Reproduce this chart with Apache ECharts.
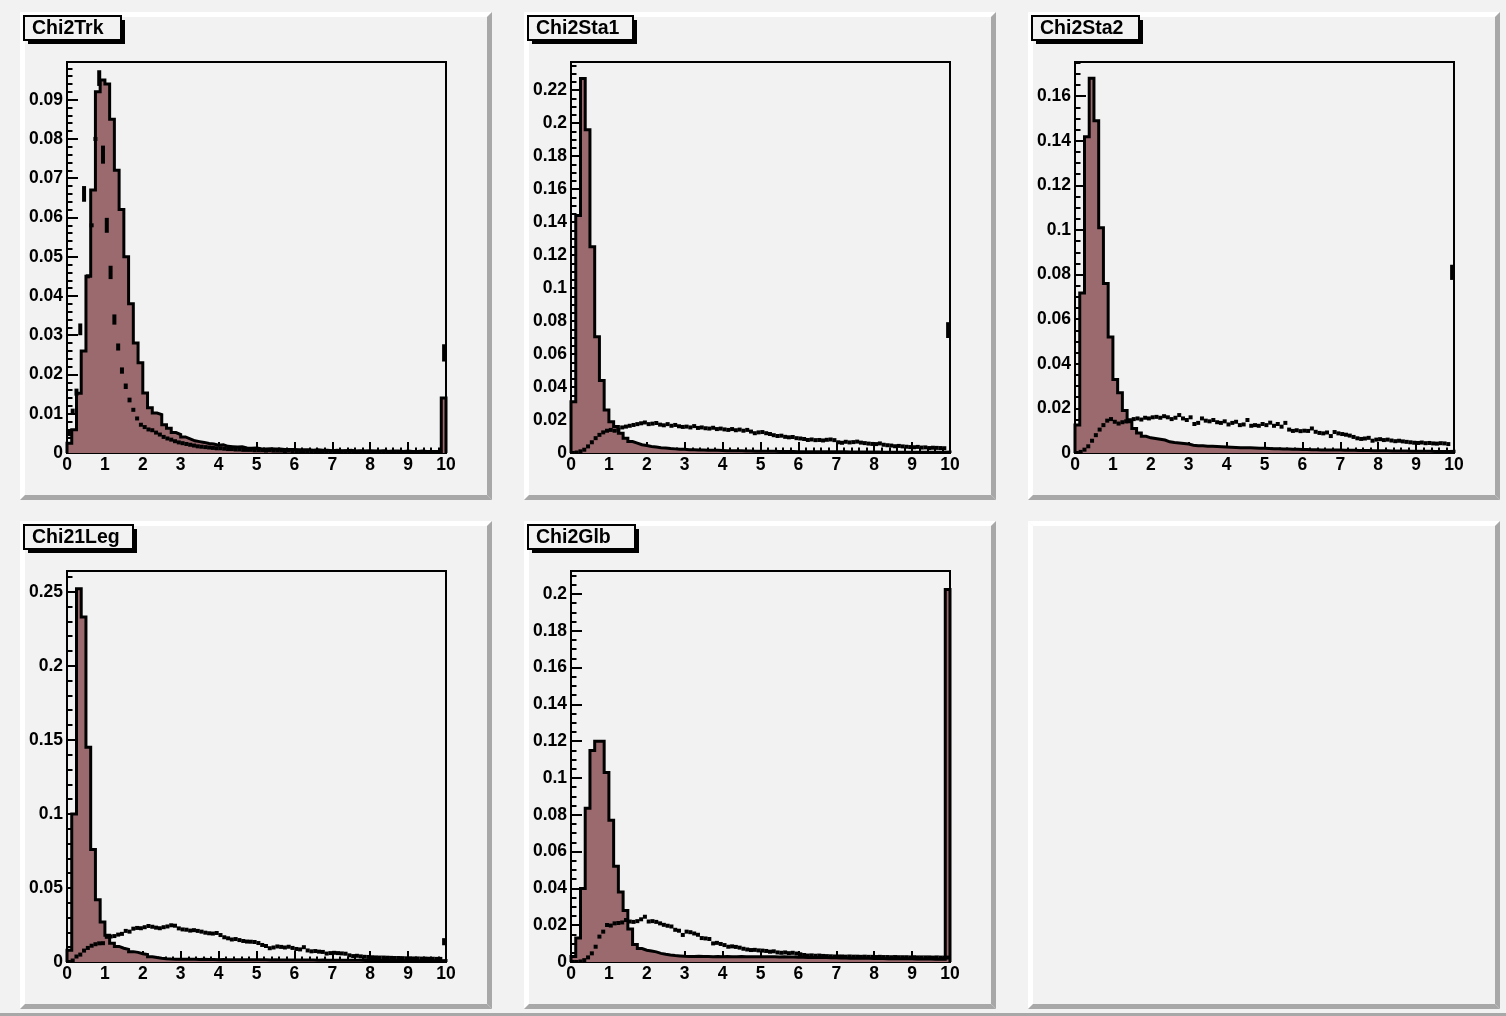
<!DOCTYPE html>
<html>
<head>
<meta charset="utf-8">
<script src="https://cdn.jsdelivr.net/npm/echarts@6/dist/echarts.min.js"></script>
<style>
  html, body { margin: 0; padding: 0; background: #f2f2f2; }
  #chart { width: 1506px; height: 1016px; }
</style>
</head>
<body>
<div id="chart"></div>
<script>
// pad titles and y ranges
var titles = ['Chi2Trk', 'Chi2Sta1', 'Chi2Sta2', 'Chi21Leg', 'Chi2Glb'];
var yMax = [0.0996, 0.237, 0.1753, 0.264, 0.2125];
var yStep = [0.01, 0.02, 0.02, 0.05, 0.02];
var yMinor = [5, 4, 4, 5, 4];
var xTicks = [0, 1, 2, 3, 4, 5, 6, 7, 8, 9, 10];

// filled histograms, 80 bins on [0,10]
var trkFill = [
  0.0025, 0.0059, 0.0152, 0.026, 0.045, 0.067, 0.092, 0.095, 0.094, 0.085,
  0.072, 0.062, 0.050, 0.038, 0.028, 0.023, 0.0153, 0.0115, 0.0102, 0.0098,
  0.0072, 0.0063, 0.0052, 0.0047, 0.0041, 0.0036, 0.0031, 0.0029, 0.0027, 0.0024,
  0.0023, 0.0020, 0.0021, 0.0017, 0.0016, 0.0015, 0.0016, 0.0013, 0.0012, 0.0013,
  0.0011, 0.0010, 0.0011, 0.0010, 0.0010, 0.0009, 0.0009, 0.0009, 0.0008, 0.0008,
  0.0008, 0.0007, 0.0008, 0.0007, 0.0007, 0.0006, 0.0007, 0.0006, 0.0006, 0.0007,
  0.0005, 0.0006, 0.0005, 0.0006, 0.0005, 0.0005, 0.0006, 0.0004, 0.0005, 0.0005,
  0.0004, 0.0005, 0.0004, 0.0004, 0.0005, 0.0004, 0.0004, 0.0004, 0.0003, 0.0140
];
var sta1Fill = [
  0.031, 0.144, 0.227, 0.196, 0.125, 0.0705, 0.044, 0.026, 0.019, 0.016,
  0.012, 0.0089, 0.0069, 0.006, 0.005, 0.0045, 0.004, 0.0036, 0.0032, 0.003,
  0.0027, 0.0025, 0.0023, 0.0022, 0.002, 0.0019, 0.0018, 0.0018, 0.0017, 0.0016,
  0.0016, 0.0015, 0.0014, 0.0014, 0.0013, 0.0013, 0.0012, 0.0012, 0.0011, 0.0011,
  0.0010, 0.0010, 0.0010, 0.0009, 0.0009, 0.0009, 0.0009, 0.0008, 0.0008, 0.0008,
  0.0008, 0.0008, 0.0007, 0.0007, 0.0007, 0.0007, 0.0007, 0.0007, 0.0006, 0.0006,
  0.0006, 0.0006, 0.0006, 0.0006, 0.0006, 0.0005, 0.0005, 0.0005, 0.0005, 0.0005,
  0.0005, 0.0005, 0.0005, 0.0005, 0.0004, 0.0004, 0.0004, 0.0004, 0.0004, 0.0006
];
var sta2Fill = [
  0.0126, 0.0717, 0.1418, 0.168, 0.149, 0.101, 0.076, 0.052, 0.033, 0.027,
  0.019, 0.014, 0.011, 0.009, 0.0075, 0.0068, 0.0065, 0.0062, 0.0058, 0.005,
  0.0047, 0.0045, 0.0043, 0.004, 0.0035, 0.0033, 0.0032, 0.003, 0.003, 0.0029,
  0.0028, 0.0027, 0.0026, 0.0025, 0.0024, 0.0023, 0.0023, 0.0022, 0.0021, 0.0021,
  0.0020, 0.0019, 0.0019, 0.0018, 0.0018, 0.0017, 0.0017, 0.0016, 0.0016, 0.0015,
  0.0015, 0.0014, 0.0014, 0.0014, 0.0013, 0.0013, 0.0012, 0.0012, 0.0012, 0.0011,
  0.0011, 0.0011, 0.0010, 0.0010, 0.0010, 0.0010, 0.0009, 0.0009, 0.0009, 0.0009,
  0.0008, 0.0008, 0.0008, 0.0008, 0.0008, 0.0007, 0.0007, 0.0007, 0.0007, 0.0008
];
var legFill = [
  0.008, 0.100, 0.252, 0.233, 0.145, 0.076, 0.042, 0.027, 0.018, 0.0127,
  0.0105, 0.0093, 0.0085, 0.007, 0.0065, 0.0056, 0.005, 0.0036, 0.003, 0.0025,
  0.0022, 0.0020, 0.0019, 0.0019, 0.0018, 0.0018, 0.0018, 0.0017, 0.0018, 0.0017,
  0.0017, 0.0016, 0.0017, 0.0016, 0.0016, 0.0016, 0.0015, 0.0016, 0.0015, 0.0015,
  0.0015, 0.0015, 0.0014, 0.0015, 0.0014, 0.0014, 0.0014, 0.0013, 0.0014, 0.0013,
  0.0013, 0.0013, 0.0012, 0.0013, 0.0012, 0.0012, 0.0012, 0.0011, 0.0012, 0.0011,
  0.0011, 0.0011, 0.0010, 0.0011, 0.0010, 0.0010, 0.0010, 0.0010, 0.0009, 0.0010,
  0.0009, 0.0009, 0.0009, 0.0009, 0.0008, 0.0009, 0.0008, 0.0008, 0.0008, 0.0010
];
var glbFill = [
  0.003, 0.013, 0.040, 0.0835, 0.115, 0.120, 0.120, 0.103, 0.077, 0.052,
  0.038, 0.028, 0.018, 0.0095, 0.0073, 0.0064, 0.006, 0.0055, 0.0047, 0.0042,
  0.0038, 0.0035, 0.0033, 0.0031, 0.0030, 0.0030, 0.0031, 0.0030, 0.0030, 0.0029,
  0.0030, 0.0029, 0.0030, 0.0029, 0.0029, 0.0030, 0.0029, 0.0028, 0.0029, 0.0028,
  0.0028, 0.0029, 0.0028, 0.0027, 0.0028, 0.0027, 0.0027, 0.0026, 0.0026, 0.0025,
  0.0025, 0.0025, 0.0024, 0.0024, 0.0023, 0.0023, 0.0022, 0.0022, 0.0021, 0.0021,
  0.0020, 0.0020, 0.0020, 0.0019, 0.0019, 0.0019, 0.0018, 0.0018, 0.0018, 0.0017,
  0.0017, 0.0017, 0.0016, 0.0016, 0.0016, 0.0016, 0.0015, 0.0015, 0.0015, 0.2025
];

// marker histograms, 100 bins on [0,10]
var trkPts = [
  0.0050, 0.0105, 0.0155, 0.0315, 0.0660, 0.0450, 0.0580, 0.0800, 0.0955, 0.0760,
  0.0580, 0.0460, 0.0340, 0.0270, 0.0210, 0.0170, 0.0135, 0.0110, 0.0088, 0.0072,
  0.0066, 0.0060, 0.0058, 0.0052, 0.0047, 0.0041, 0.0037, 0.0034, 0.0030, 0.0027,
  0.0025, 0.0023, 0.0021, 0.0019, 0.0017, 0.0016, 0.0015, 0.0014, 0.0013, 0.0012,
  0.0012, 0.0011, 0.0010, 0.0010, 0.0009, 0.0009, 0.0008, 0.0008, 0.0008, 0.0007,
  0.0007, 0.0007, 0.0006, 0.0007, 0.0006, 0.0006, 0.0006, 0.0005, 0.0006, 0.0005,
  0.0005, 0.0005, 0.0005, 0.0004, 0.0005, 0.0004, 0.0004, 0.0004, 0.0004, 0.0004,
  0.0003, 0.0004, 0.0003, 0.0004, 0.0003, 0.0003, 0.0003, 0.0003, 0.0003, 0.0003,
  0.0003, 0.0003, 0.0002, 0.0003, 0.0002, 0.0003, 0.0002, 0.0002, 0.0002, 0.0002,
  0.0002, 0.0002, 0.0002, 0.0002, 0.0002, 0.0002, 0.0002, 0.0002, 0.0002, 0.0255
];
var sta1Pts = [
  0.0000, 0.0003, 0.0010, 0.0020, 0.0040, 0.0065, 0.0090, 0.0110, 0.0125, 0.0135,
  0.0140, 0.0135, 0.0140, 0.0155, 0.0160, 0.0165, 0.0170, 0.0175, 0.0180, 0.0185,
  0.0175, 0.0178, 0.0182, 0.0172, 0.0168, 0.0175, 0.0165, 0.0170, 0.0162, 0.0158,
  0.0160, 0.0155, 0.0163, 0.0152, 0.0155, 0.0150, 0.0148, 0.0153, 0.0145, 0.0148,
  0.0143, 0.0140, 0.0145, 0.0138, 0.0142, 0.0135, 0.0140, 0.0130, 0.0120, 0.0125,
  0.0127, 0.0120, 0.0115, 0.0108, 0.0103, 0.0105, 0.0098, 0.0095, 0.0097, 0.0090,
  0.0088, 0.0085, 0.0079, 0.0082, 0.0078, 0.0079, 0.0076, 0.0080, 0.0082, 0.0078,
  0.0065, 0.0062, 0.0068, 0.0064, 0.0066, 0.0069, 0.0063, 0.0060, 0.0057, 0.0055,
  0.0054, 0.0058, 0.0050, 0.0047, 0.0045, 0.0041, 0.0043, 0.0040, 0.0038, 0.0036,
  0.0035, 0.0037, 0.0033, 0.0034, 0.0030, 0.0032, 0.0031, 0.0030, 0.0029, 0.0745
];
var sta2Pts = [
  0.0000, 0.0005, 0.0015, 0.0030, 0.0055, 0.0080, 0.0105, 0.0125, 0.0145, 0.0152,
  0.0140, 0.0132, 0.0138, 0.0142, 0.0147, 0.0152, 0.0155, 0.0150, 0.0158, 0.0155,
  0.0160, 0.0162, 0.0158, 0.0165, 0.0160, 0.0152, 0.0158, 0.0170, 0.0155, 0.0148,
  0.0160, 0.0130, 0.0135, 0.0155, 0.0145, 0.0142, 0.0148, 0.0138, 0.0135, 0.0142,
  0.0128, 0.0135, 0.0140, 0.0125, 0.0128, 0.0148, 0.0122, 0.0125, 0.0122, 0.0130,
  0.0125, 0.0136, 0.0122, 0.0130, 0.0118, 0.0135, 0.0105, 0.0099, 0.0102, 0.0098,
  0.0100, 0.0099, 0.0110, 0.0095, 0.0090, 0.0088, 0.0092, 0.0076, 0.0094, 0.0088,
  0.0085, 0.0082, 0.0078, 0.0072, 0.0066, 0.0063, 0.0065, 0.0068, 0.0055, 0.0060,
  0.0062, 0.0058, 0.0060, 0.0056, 0.0053, 0.0055, 0.0052, 0.0050, 0.0048, 0.0046,
  0.0045, 0.0047, 0.0044, 0.0045, 0.0043, 0.0042, 0.0044, 0.0043, 0.0040, 0.0810
];
var legPts = [
  0.0000, 0.0010, 0.0037, 0.0050, 0.0077, 0.0095, 0.0110, 0.0120, 0.0126, 0.0127,
  0.0170, 0.0172, 0.0175, 0.0185, 0.0190, 0.0210, 0.0205, 0.0225, 0.0230, 0.0228,
  0.0235, 0.0243, 0.0238, 0.0232, 0.0228, 0.0235, 0.0240, 0.0248, 0.0245, 0.0227,
  0.0220, 0.0218, 0.0212, 0.0215, 0.0210, 0.0205, 0.0198, 0.0194, 0.0192, 0.0196,
  0.0182, 0.0167, 0.0160, 0.0152, 0.0155, 0.0148, 0.0142, 0.0138, 0.0137, 0.0135,
  0.0128, 0.0115, 0.0108, 0.0093, 0.0098, 0.0105, 0.0102, 0.0098, 0.0103, 0.0095,
  0.0088, 0.0085, 0.0100, 0.0078, 0.0072, 0.0074, 0.0070, 0.0068, 0.0057, 0.0060,
  0.0062, 0.0060, 0.0058, 0.0056, 0.0045, 0.0040, 0.0042, 0.0038, 0.0035, 0.0034,
  0.0032, 0.0031, 0.0030, 0.0030, 0.0029, 0.0028, 0.0027, 0.0027, 0.0026, 0.0025,
  0.0025, 0.0024, 0.0024, 0.0023, 0.0023, 0.0022, 0.0022, 0.0021, 0.0021, 0.0137
];
var glbPts = [
  0.0000, 0.0000, 0.0003, 0.0010, 0.0025, 0.0047, 0.0083, 0.0138, 0.0165, 0.0201,
  0.0198, 0.0210, 0.0212, 0.0215, 0.0228, 0.0220, 0.0218, 0.0222, 0.0232, 0.0246,
  0.0220, 0.0222, 0.0218, 0.0210, 0.0202, 0.0197, 0.0193, 0.0175, 0.0170, 0.0147,
  0.0165, 0.0162, 0.0155, 0.0148, 0.0130, 0.0128, 0.0125, 0.0101, 0.0104, 0.0098,
  0.0092, 0.0083, 0.0085, 0.0082, 0.0078, 0.0072, 0.0068, 0.0065, 0.0066, 0.0063,
  0.0062, 0.0060, 0.0056, 0.0058, 0.0052, 0.0050, 0.0052, 0.0048, 0.0050, 0.0046,
  0.0042, 0.0038, 0.0035, 0.0036, 0.0034, 0.0035, 0.0033, 0.0032, 0.0031, 0.0030,
  0.0030, 0.0030, 0.0029, 0.0030, 0.0029, 0.0029, 0.0028, 0.0029, 0.0028, 0.0028,
  0.0027, 0.0028, 0.0027, 0.0027, 0.0026, 0.0027, 0.0026, 0.0026, 0.0026, 0.0025,
  0.0026, 0.0025, 0.0025, 0.0025, 0.0025, 0.0024, 0.0025, 0.0024, 0.0024, 0.0024
];

// error bars [bin, error] where they are visible
var trkErr = [[0, 0.0007], [1, 0.0008], [2, 0.0009], [3, 0.0015], [4, 0.002], [5, 0.0005],
  [6, 0.0005], [7, 0.0005], [8, 0.002], [9, 0.0023], [10, 0.0019], [11, 0.0017], [12, 0.0013],
  [13, 0.0009], [14, 0.0008], [15, 0.0007], [16, 0.0006], [99, 0.0022]];
var sta1Err = [[99, 0.0048]];
var sta2Err = [[99, 0.0034]];
var legErr = [[99, 0.0024]];
var glbErr = [];

var fills = [trkFill, sta1Fill, sta2Fill, legFill, glbFill];
var points = [trkPts, sta1Pts, sta2Pts, legPts, glbPts];
var errors = [trkErr, sta1Err, sta2Err, legErr, glbErr];

// layout (pixels)
var padX = [20, 524, 1028];
var padY = [12, 521];
var padW = 472, padH = 488, bevel = 5;
var titleW = [97, 105, 107, 109, 107];
var FONT = 'Liberation Sans, Arial, Helvetica, sans-serif';

function stepData(vals) {
  var w = 10 / vals.length;
  var d = [[0, 0]];
  vals.forEach(function (v, i) { d.push([i * w, v]); });
  d.push([10, vals[vals.length - 1]]);
  d.push([10, 0]);
  return d;
}

function pointData(vals, errs) {
  var w = 10 / vals.length;
  var e = {};
  errs.forEach(function (p) { e[p[0]] = p[1]; });
  return vals.map(function (v, i) { return [(i + 0.5) * w, v, e[i] || 0]; });
}

function renderMarker(params, api) {
  var p = api.coord([api.value(0), api.value(1)]);
  var h = api.size([0, api.value(2)])[1];
  h = Math.max(h, 2);
  return {
    type: 'rect',
    shape: { x: p[0] - 2, y: p[1] - h, width: 4, height: 2 * h },
    style: { fill: '#000' }
  };
}

function bevelShapes(x0, y0) {
  var x1 = x0 + padW, y1 = y0 + padH, b = bevel;
  return [
    { type: 'polygon', shape: { points: [[x0, y0], [x1, y0], [x1 - b, y0 + b], [x0 + b, y0 + b]] }, style: { fill: '#ffffff' } },
    { type: 'polygon', shape: { points: [[x0, y0], [x0 + b, y0 + b], [x0 + b, y1 - b], [x0, y1]] }, style: { fill: '#ffffff' } },
    { type: 'polygon', shape: { points: [[x0, y1], [x0 + b, y1 - b], [x1 - b, y1 - b], [x1, y1]] }, style: { fill: '#a8a8a8' } },
    { type: 'polygon', shape: { points: [[x1, y0], [x1, y1], [x1 - b, y1 - b], [x1 - b, y0 + b]] }, style: { fill: '#a8a8a8' } }
  ];
}

var grids = [], xAxes = [], yAxes = [], series = [], graphics = [];

// canvas border
graphics.push({ type: 'rect', shape: { x: 0, y: 1013, width: 1506, height: 3 }, style: { fill: '#a8a8a8' } });

for (var p = 0; p < 6; p++) {
  var x0 = padX[p % 3], y0 = padY[Math.floor(p / 3)];
  graphics = graphics.concat(bevelShapes(x0, y0));
}

for (var i = 0; i < 5; i++) {
  var px = padX[i % 3], py = padY[Math.floor(i / 3)];
  grids.push({
    left: px + 47, top: py + 50, width: 379, height: 391,
    show: true, borderColor: '#000', borderWidth: 2, backgroundColor: 'transparent'
  });
  var tickStyle = { color: '#000', width: 2 };
  var labelStyle = { color: '#000', fontFamily: FONT, fontWeight: 'bold', fontSize: 17.5 };
  xAxes.push({
    gridIndex: i, type: 'value', min: xTicks[0], max: xTicks[xTicks.length - 1], interval: 1,
    axisLine: { show: true, onZero: false, lineStyle: { color: '#000', width: 2 } },
    axisTick: { inside: true, length: 11, lineStyle: tickStyle },
    minorTick: { show: true, splitNumber: 5, length: 5.5, lineStyle: tickStyle },
    splitLine: { show: false },
    axisLabel: Object.assign({ margin: 3 }, labelStyle)
  });
  yAxes.push({
    gridIndex: i, type: 'value', min: 0, max: yMax[i], interval: yStep[i],
    axisLine: { show: true, onZero: false, lineStyle: { color: '#000', width: 2 } },
    axisTick: { inside: true, length: 11, lineStyle: tickStyle },
    minorTick: { show: true, splitNumber: yMinor[i], length: 5.5, lineStyle: tickStyle },
    splitLine: { show: false },
    axisLabel: Object.assign({
      margin: 4, showMaxLabel: false,
      formatter: function (v) { return String(+v.toFixed(3)); }
    }, labelStyle)
  });
  series.push({
    type: 'line', xAxisIndex: i, yAxisIndex: i,
    data: stepData(fills[i]), step: 'end', symbol: 'none',
    lineStyle: { color: '#000', width: 3, join: 'miter' },
    areaStyle: { color: '#9a6a6e', opacity: 1 },
    clip: true, z: 2, silent: true
  });
  series.push({
    type: 'custom', xAxisIndex: i, yAxisIndex: i,
    data: pointData(points[i], errors[i]),
    renderItem: renderMarker, clip: true, z: 3, silent: true
  });

  // title box with shadow
  var tx = px + 4, ty = py + 4, th = 24;
  graphics.push({ type: 'rect', shape: { x: tx + 4, y: ty + 4, width: titleW[i], height: th }, style: { fill: '#000' } });
  graphics.push({ type: 'rect', shape: { x: tx, y: ty, width: titleW[i], height: th }, style: { fill: '#f2f2f2', stroke: '#000', lineWidth: 2 } });
  graphics.push({
    type: 'text', x: tx + 8, y: ty + th / 2 + 1,
    style: { text: titles[i], fill: '#000', font: 'bold 19.5px ' + FONT, textVerticalAlign: 'middle', verticalAlign: 'middle' }
  });
}

var myChart = echarts.init(document.getElementById('chart'), null, { renderer: 'canvas' });
myChart.setOption({
  animation: false,
  backgroundColor: '#f2f2f2',
  grid: grids,
  xAxis: xAxes,
  yAxis: yAxes,
  series: series,
  graphic: graphics
});
</script>
</body>
</html>
